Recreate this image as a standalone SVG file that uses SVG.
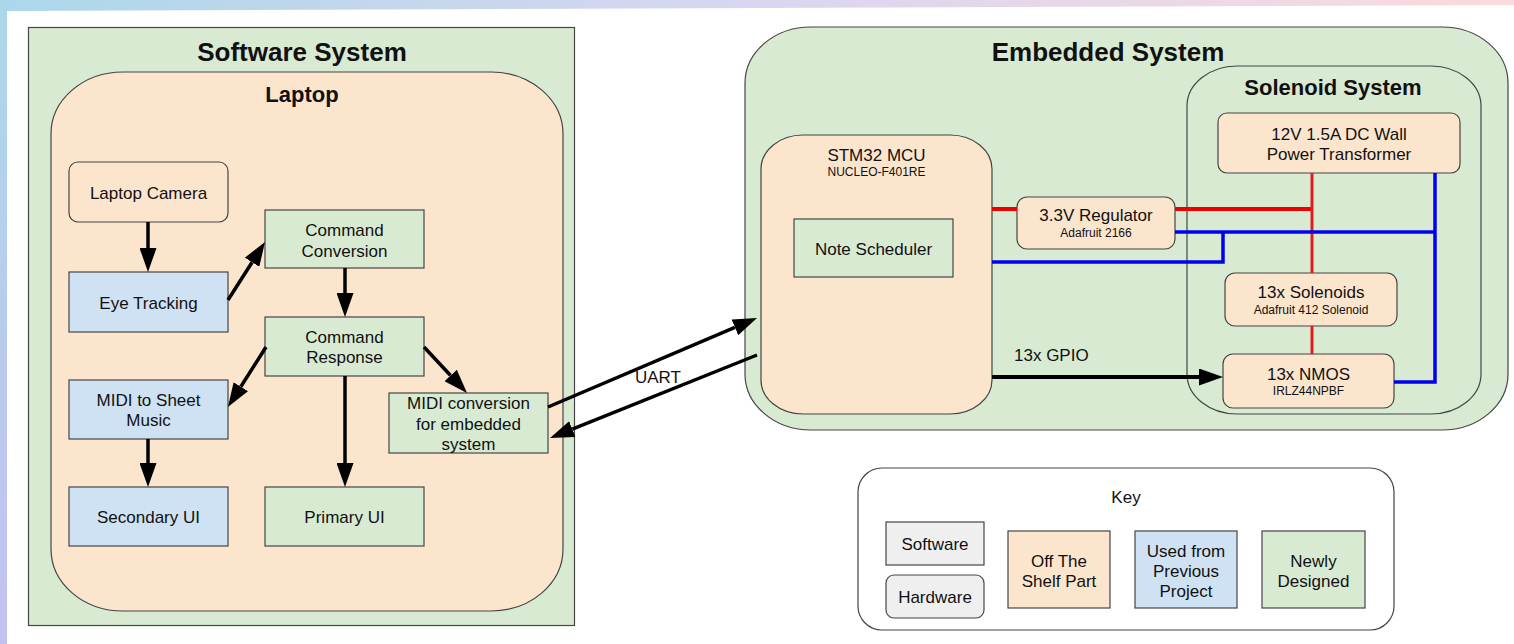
<svg xmlns="http://www.w3.org/2000/svg" width="1514" height="644" viewBox="0 0 1514 644">
<defs>
<linearGradient id="gTop" x1="0" y1="0" x2="1" y2="0"><stop offset="0" stop-color="#acd7ea"/><stop offset="0.5" stop-color="#d9d6f0"/><stop offset="1" stop-color="#fadadd"/></linearGradient>
<linearGradient id="gLeft" x1="0" y1="0" x2="0" y2="1"><stop offset="0" stop-color="#acd7ea"/><stop offset="1" stop-color="#c4c1f1"/></linearGradient>
<marker id="ah" markerUnits="userSpaceOnUse" markerWidth="24" markerHeight="17" refX="0" refY="8.5" orient="auto"><path d="M0,0 L24,8.5 L0,17 z" fill="#000"/></marker>
<style>
.bx{stroke:#454545;stroke-width:1.2}
.g{fill:#d9ead3}.p{fill:#fce5cd}.b{fill:#cfe2f3}.k{fill:#efefef}.w{fill:#fff}
text{font-family:"Liberation Sans",Arial,sans-serif;fill:#111;text-anchor:middle;font-size:17px}
.s{font-size:12px}
.h{font-size:26px;font-weight:bold}
.h2{font-size:22px;font-weight:bold}
.l{text-anchor:start}
.ar{stroke:#000;stroke-width:3.5;fill:none;marker-end:url(#ah)}
.red{stroke:#ee0000;stroke-width:4;fill:none}
.red2{stroke:#e02020;stroke-width:3;fill:none}
.blu{stroke:#0000ee;stroke-width:3.5;fill:none}
</style>
</defs>
<rect x="0" y="0" width="1514" height="644" fill="#fff"/>
<polygon points="0,0 1514,0 1514,5 7,11 0,11" fill="url(#gTop)"/>
<rect x="0" y="0" width="7" height="644" fill="url(#gLeft)"/>

<g id="software-system">
<rect class="bx g" x="28.5" y="27.5" width="546" height="598"/>
<text class="h" x="302" y="61">Software System</text>
</g>
<g id="laptop">
<rect class="bx p" x="51" y="72" width="512" height="539" rx="72" ry="62"/>
<text class="h2" x="302" y="102">Laptop</text>
</g>
<g id="laptop-camera"><rect class="bx p" x="69" y="162" width="159" height="60" rx="9"/><text x="148.5" y="199">Laptop Camera</text></g>
<g id="eye-tracking"><rect class="bx b" x="69" y="272" width="159" height="60"/><text x="148.5" y="309">Eye Tracking</text></g>
<g id="command-conversion"><rect class="bx g" x="265" y="210" width="159" height="58"/><text x="344.5" y="236">Command</text><text x="344.5" y="257">Conversion</text></g>
<g id="command-response"><rect class="bx g" x="265" y="317" width="159" height="59"/><text x="344.5" y="343">Command</text><text x="344.5" y="363">Response</text></g>
<g id="midi-to-sheet"><rect class="bx b" x="69" y="380" width="159" height="59"/><text x="148.5" y="406">MIDI to Sheet</text><text x="148.5" y="426">Music</text></g>
<g id="midi-conversion"><rect class="bx g" x="389" y="393" width="159" height="60"/><text x="468.5" y="409">MIDI conversion</text><text x="468.5" y="430">for embedded</text><text x="468.5" y="450">system</text></g>
<g id="secondary-ui"><rect class="bx b" x="69" y="487" width="159" height="59"/><text x="148.5" y="523">Secondary UI</text></g>
<g id="primary-ui"><rect class="bx g" x="265" y="487" width="159" height="59"/><text x="344.5" y="523">Primary UI</text></g>

<g id="embedded-system">
<rect class="bx g" x="745" y="27" width="763" height="403" rx="66" ry="56"/>
<text class="h" x="1108" y="61">Embedded System</text>
</g>
<g id="solenoid-system">
<rect class="bx g" x="1187" y="66" width="294" height="348" rx="50" ry="40"/>
<text class="h2" x="1333" y="95">Solenoid System</text>
</g>
<g id="stm32"><rect class="bx p" x="761" y="135" width="231" height="279" rx="42" ry="34"/><text x="876.5" y="161">STM32 MCU</text><text class="s" x="876.5" y="176">NUCLEO-F401RE</text></g>
<g id="note-scheduler"><rect class="bx g" x="794" y="219" width="159" height="58"/><text x="873.5" y="255">Note Scheduler</text></g>
<g id="power-transformer"><rect class="bx p" x="1218" y="113" width="242" height="60" rx="9"/><text x="1339" y="139.5">12V 1.5A DC Wall</text><text x="1339" y="159.5">Power Transformer</text></g>
<g id="regulator"><rect class="bx p" x="1017" y="197" width="158" height="52" rx="10"/><text x="1096" y="221">3.3V Regulator</text><text class="s" x="1096" y="236.5">Adafruit 2166</text></g>
<g id="solenoids"><rect class="bx p" x="1225" y="273" width="172" height="53" rx="10"/><text x="1311" y="297.5">13x Solenoids</text><text class="s" x="1311" y="313.5">Adafruit 412 Solenoid</text></g>
<g id="nmos"><rect class="bx p" x="1223" y="354" width="171" height="54" rx="10"/><text x="1308.5" y="379.5">13x NMOS</text><text class="s" x="1308.5" y="394.5">IRLZ44NPBF</text></g>

<g id="key">
<rect class="bx w" x="858" y="468" width="536" height="162" rx="24"/>
<text x="1126" y="502.5">Key</text>
<rect class="bx k" x="886" y="522" width="98" height="43"/><text x="935" y="550">Software</text>
<rect class="bx k" x="886" y="575" width="98" height="43" rx="8"/><text x="935" y="603">Hardware</text>
<rect class="bx p" x="1008" y="531" width="102" height="77"/><text x="1059" y="567">Off The</text><text x="1059" y="587">Shelf Part</text>
<rect class="bx b" x="1135" y="531" width="102" height="77"/><text x="1186" y="556.5">Used from</text><text x="1186" y="576.5">Previous</text><text x="1186" y="596.5">Project</text>
<rect class="bx g" x="1262" y="531" width="103" height="77"/><text x="1313.5" y="567">Newly</text><text x="1313.5" y="587">Designed</text>
</g>

<g id="connectors">
<line class="ar" x1="148" y1="222" x2="148" y2="248"/>
<line class="ar" x1="228" y1="300" x2="252.1" y2="262.2"/>
<line class="ar" x1="345" y1="268" x2="345" y2="293"/>
<line class="ar" x1="266" y1="347" x2="240.8" y2="386.7"/>
<line class="ar" x1="424" y1="347" x2="450.6" y2="375.5"/>
<line class="ar" x1="345" y1="376" x2="345" y2="463"/>
<line class="ar" x1="148" y1="439" x2="148" y2="463"/>
<line class="ar" x1="548" y1="407" x2="734.9" y2="327.4"/>
<line class="ar" x1="757" y1="355" x2="572.3" y2="429.1"/>
<line class="ar" style="stroke-width:4" x1="992" y1="377" x2="1199" y2="377"/>
<text x="658" y="383">UART</text>
<text class="l" x="1014" y="361">13x GPIO</text>
<path class="red" d="M992,209 H1017 M1175,209 H1312"/>
<path class="red2" d="M1312,173 V273 M1312,326 V354"/>
<path class="blu" d="M1175,232 H1435 M1435,173 V382 H1394 M1223,232 V262 H992"/>
</g>
</svg>
